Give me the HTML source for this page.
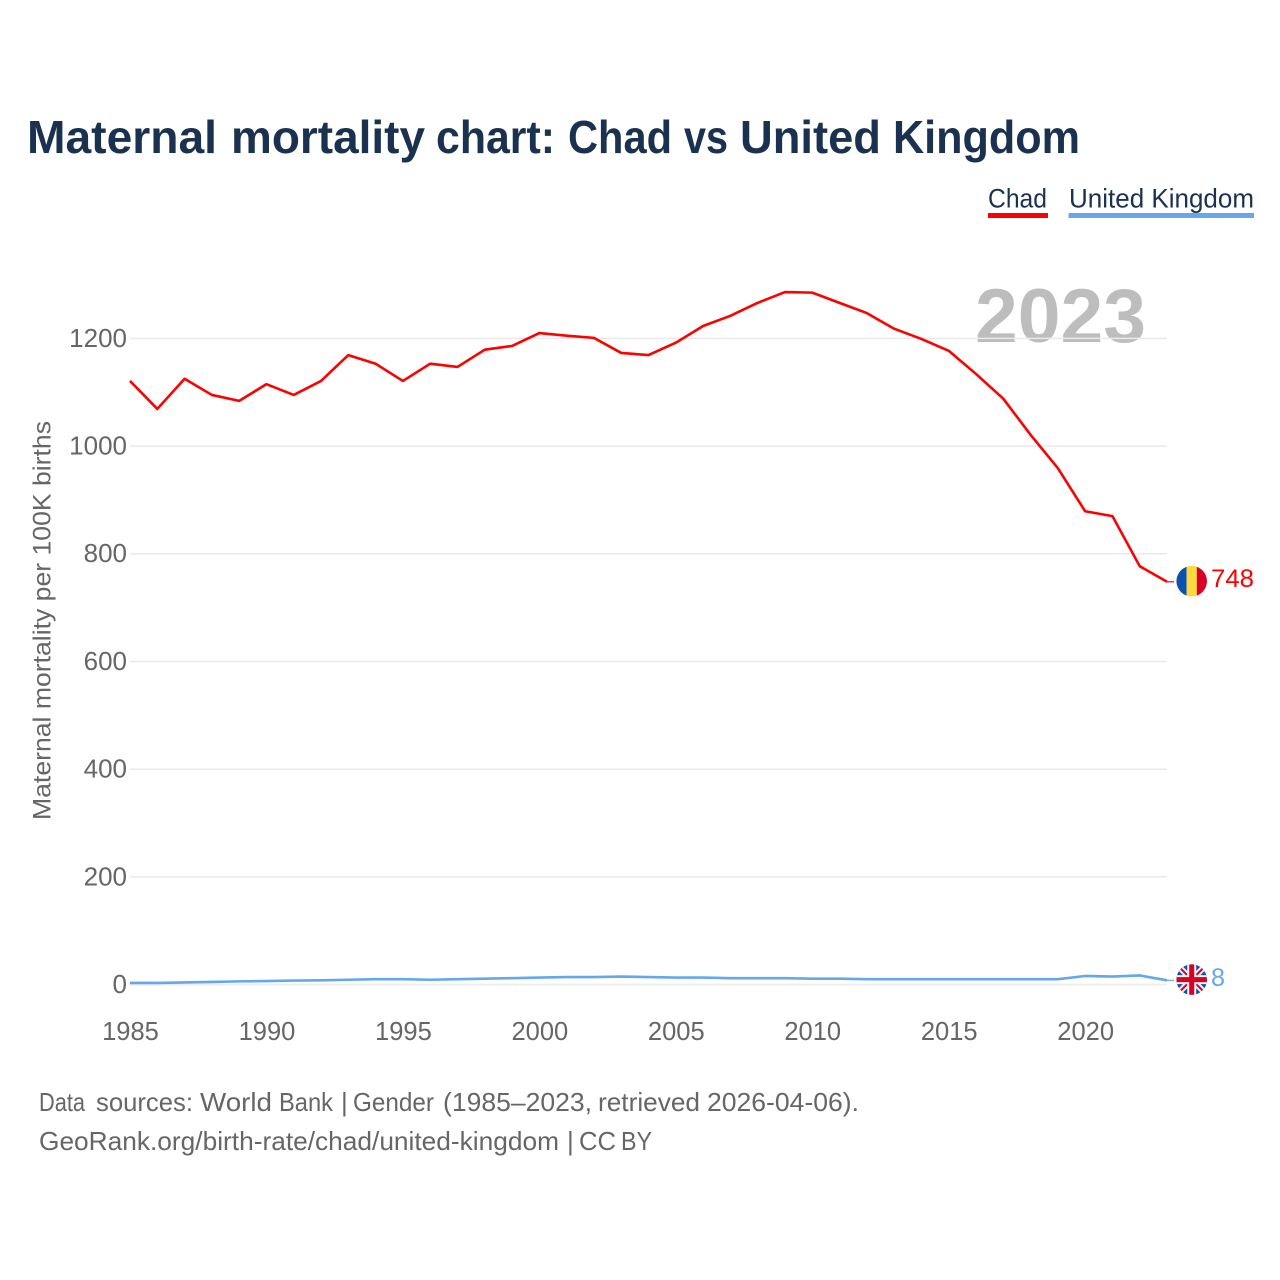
<!DOCTYPE html>
<html lang="en">
<head>
<meta charset="utf-8">
<title>Maternal mortality chart: Chad vs United Kingdom</title>
<style>
html,body{margin:0;padding:0;background:#fff;}
svg{display:block;}
text{font-family:"Liberation Sans",sans-serif;}
</style>
</head>
<body>
<svg id="chart" xmlns="http://www.w3.org/2000/svg" width="1280" height="1280" viewBox="0 0 1280 1280">
  <rect width="1280" height="1280" fill="#ffffff"/>
  <text y="153" font-size="46" font-weight="700" fill="#1a3250" lengthAdjust="spacingAndGlyphs"><tspan x="27" textLength="190" lengthAdjust="spacingAndGlyphs">Maternal</tspan> <tspan x="231" textLength="194" lengthAdjust="spacingAndGlyphs">mortality</tspan> <tspan x="436" textLength="119" lengthAdjust="spacingAndGlyphs">chart:</tspan> <tspan x="568" textLength="104" lengthAdjust="spacingAndGlyphs">Chad</tspan> <tspan x="684" textLength="44" lengthAdjust="spacingAndGlyphs">vs</tspan> <tspan x="740" textLength="141" lengthAdjust="spacingAndGlyphs">United</tspan> <tspan x="893" textLength="187" lengthAdjust="spacingAndGlyphs">Kingdom</tspan></text>

  <g>
    <text x="988" y="207.5" font-size="27" fill="#1a3250" textLength="59" lengthAdjust="spacingAndGlyphs">Chad</text>
    <rect x="988" y="213" width="60" height="5" fill="#ff0000"/>
    <text x="1069" y="207.5" font-size="27" fill="#1a3250" textLength="185" lengthAdjust="spacingAndGlyphs">United Kingdom</text>
    <rect x="1068.5" y="213" width="185.5" height="5" fill="#64a7ee"/>
  </g>

  <text x="975" y="342" font-size="76" font-weight="700" fill="#bdbdbd" textLength="171" lengthAdjust="spacingAndGlyphs">2023</text>

  <g id="grid"></g>
  <g id="yTicks"></g>
  <g id="xTicks"></g>

  <text transform="translate(50.5,820) rotate(-90)" font-size="25" fill="#666666" textLength="399" lengthAdjust="spacingAndGlyphs">Maternal mortality per 100K births</text>

  <g id="series"></g>

  <defs>
    <clipPath id="clipTd"><circle cx="0" cy="0" r="15.3"/></clipPath>
    <clipPath id="clipUk"><circle cx="0" cy="0" r="15.3"/></clipPath>
  </defs>

  <g id="flagTd" clip-path="url(#clipTd)">
    <rect x="-15.3" y="-15.3" width="10.2" height="30.6" fill="#0a52ae"/>
    <rect x="-5.1" y="-15.3" width="10.2" height="30.6" fill="#ffd83d"/>
    <rect x="5.1" y="-15.3" width="10.2" height="30.6" fill="#d80027"/>
  </g>
  <g id="flagUk" clip-path="url(#clipUk)">
    <rect x="-15.3" y="-15.3" width="30.6" height="30.6" fill="#0a52ae"/>
    <path d="M-15.3 -15.3L15.3 15.3M15.3 -15.3L-15.3 15.3" stroke="#f0f0f0" stroke-width="6"/>
    <path d="M-15.3 -15.3L15.3 15.3M15.3 -15.3L-15.3 15.3" stroke="#d80027" stroke-width="2"/>
    <path d="M0 -15.3V15.3M-15.3 0H15.3" stroke="#f0f0f0" stroke-width="9"/>
    <path d="M0 -15.3V15.3M-15.3 0H15.3" stroke="#d80027" stroke-width="5"/>
  </g>
  <text id="labelTd" x="1211" font-size="25" fill="#ff0000" textLength="43" lengthAdjust="spacingAndGlyphs"></text>
  <text id="labelUk" x="1211" font-size="25" fill="#64a7ee" textLength="14" lengthAdjust="spacingAndGlyphs"></text>

  <text y="1111" font-size="26" fill="#666666"><tspan x="39" textLength="46" lengthAdjust="spacingAndGlyphs">Data</tspan> <tspan x="96" textLength="97" lengthAdjust="spacingAndGlyphs">sources:</tspan> <tspan x="200" textLength="72" lengthAdjust="spacingAndGlyphs">World</tspan> <tspan x="279" textLength="54" lengthAdjust="spacingAndGlyphs">Bank</tspan> <tspan x="341">|</tspan> <tspan x="353" textLength="81" lengthAdjust="spacingAndGlyphs">Gender</tspan> <tspan x="443" textLength="149" lengthAdjust="spacingAndGlyphs">(1985–2023,</tspan> <tspan x="598" textLength="102" lengthAdjust="spacingAndGlyphs">retrieved</tspan> <tspan x="707" textLength="152" lengthAdjust="spacingAndGlyphs">2026-04-06).</tspan></text>
  <text y="1150" font-size="26" fill="#666666"><tspan x="39" textLength="520" lengthAdjust="spacingAndGlyphs">GeoRank.org/birth-rate/chad/united-kingdom</tspan> <tspan x="567">|</tspan> <tspan x="579" textLength="37" lengthAdjust="spacingAndGlyphs">CC</tspan> <tspan x="621" textLength="31" lengthAdjust="spacingAndGlyphs">BY</tspan></text>
</svg>
<script>
const years = [1985,1986,1987,1988,1989,1990,1991,1992,1993,1994,1995,1996,1997,1998,1999,2000,2001,2002,2003,2004,2005,2006,2007,2008,2009,2010,2011,2012,2013,2014,2015,2016,2017,2018,2019,2020,2021,2022,2023];
const chadValues = [1121,1069,1125,1095,1084,1115,1095,1121,1169,1153,1121,1153,1147,1179,1186,1210,1205,1201,1173,1169,1192,1223,1242,1266,1286,1285,1266,1247,1218,1199,1177,1134,1088,1021,959,879,870,777,748];
const ukValues = [3,3,4,5,6,6.5,7.5,8,9,10,10,9,10,11,12,13,14,14,15,14,13,13,12,12,12,11,11,10,10,10,10,10,10,10,10,16,15,17,8];
const yTickValues = [0,200,400,600,800,1000,1200];
const xTickValues = [1985,1990,1995,2000,2005,2010,2015,2020];
const chadLabel = '748';
const ukLabel = '8';

const NS = 'http://www.w3.org/2000/svg';
const xScale = function (year) { return 130 + (year - 1985) * 27.29; };
const yScale = function (value) { return 984.6 - value * 0.5385; };

function make(tag, parent) {
  const el = document.createElementNS(NS, tag);
  parent.appendChild(el);
  return el;
}

const grid = document.getElementById('grid');
const yTicks = document.getElementById('yTicks');
const xTicks = document.getElementById('xTicks');
const series = document.getElementById('series');

yTickValues.forEach(function (v) {
  const line = make('line', grid);
  
  
  line.setAttribute('x1', 130);
  line.setAttribute('x2', 1167);
  line.setAttribute('y1', yScale(v));
  line.setAttribute('y2', yScale(v));
  line.setAttribute('stroke', v === 0 ? '#eeeeee' : '#eaeaea');
  line.setAttribute('stroke-width', v === 0 ? 2 : 1.5);

  const t = make('text', yTicks);
  
  
  t.setAttribute('x', 127);
  t.setAttribute('y', yScale(v) + 8.4);
  t.setAttribute('text-anchor', 'end');
  t.setAttribute('font-size', 26);
  t.setAttribute('fill', '#666666');
  t.textContent = String(v);
});

xTickValues.forEach(function (v) {
  const t = make('text', xTicks);
  
  
  t.setAttribute('x', xScale(v) + 0.5);
  t.setAttribute('y', 1040);
  t.setAttribute('text-anchor', 'middle');
  t.setAttribute('font-size', 25.5);
  t.setAttribute('fill', '#666666');
  t.textContent = String(v);
});

function pointsFor(values) {
  return values.map(function (v, i) {
    return xScale(years[i]).toFixed(2) + ',' + yScale(v).toFixed(2);
  }).join(' ');
}

const chadLine = make('polyline', series);


chadLine.setAttribute('points', pointsFor(chadValues));
chadLine.setAttribute('fill', 'none');
chadLine.setAttribute('stroke', '#ff0000');
chadLine.setAttribute('stroke-width', 2.6);
chadLine.setAttribute('stroke-linejoin', 'round');

const ukLine = make('polyline', series);


ukLine.setAttribute('points', pointsFor(ukValues));
ukLine.setAttribute('fill', 'none');
ukLine.setAttribute('stroke', '#64a7ee');
ukLine.setAttribute('stroke-width', 2.6);
ukLine.setAttribute('stroke-linejoin', 'round');

const lastYear = years[years.length - 1];
const chadEndY = yScale(chadValues[chadValues.length - 1]);
const ukEndY = yScale(ukValues[ukValues.length - 1]);

const chadConnector = make('line', series);


chadConnector.setAttribute('x1', xScale(lastYear));
chadConnector.setAttribute('x2', 1174);
chadConnector.setAttribute('y1', chadEndY);
chadConnector.setAttribute('y2', chadEndY);
chadConnector.setAttribute('stroke', '#ff0000');
chadConnector.setAttribute('stroke-width', 1.2);

const ukConnector = make('line', series);


ukConnector.setAttribute('x1', xScale(lastYear));
ukConnector.setAttribute('x2', 1174);
ukConnector.setAttribute('y1', ukEndY);
ukConnector.setAttribute('y2', ukEndY);
ukConnector.setAttribute('stroke', '#64a7ee');
ukConnector.setAttribute('stroke-width', 1.2);

document.getElementById('flagTd').setAttribute('transform', 'translate(1191.7,' + (chadEndY - 0.6).toFixed(2) + ')');
document.getElementById('flagUk').setAttribute('transform', 'translate(1191.7,' + (ukEndY - 0.7).toFixed(2) + ')');

const labelTd = document.getElementById('labelTd');
labelTd.setAttribute('y', chadEndY + 5.2);
labelTd.textContent = chadLabel;
const labelUk = document.getElementById('labelUk');
labelUk.setAttribute('y', ukEndY + 5.7);
labelUk.textContent = ukLabel;
</script>
</body>
</html>
